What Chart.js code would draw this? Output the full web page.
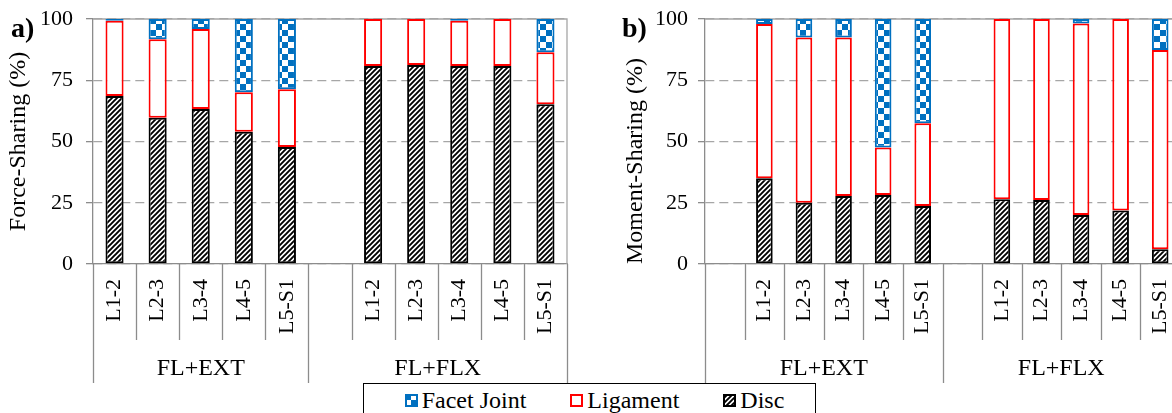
<!DOCTYPE html>
<html>
<head>
<meta charset="utf-8">
<script src="https://cdn.jsdelivr.net/npm/chart.js@4.4.1/dist/chart.umd.min.js"></script>
<style>
  html, body { margin: 0; padding: 0; background: #fff; overflow: hidden; }
  #page { position: relative; width: 1172px; height: 413px; overflow: hidden;
          font-family: "Liberation Serif", "Times New Roman", serif; color: #000; }
  #page canvas.chart { position: absolute; top: 0; }
  #chartA { left: 0; }
  #chartB { left: 590px; }
  .panel { position: absolute; font-family: "Liberation Serif", serif; font-weight: bold;
           font-size: 28px; line-height: 28px; }
  #legend { position: absolute; left: 363px; top: 383px; width: 453px; height: 40px;
            border: 1.5px solid #000; background: #fff; display: flex; justify-content: center;
            align-items: flex-start; gap: 44px; padding-top: 3px; padding-left: 10px; box-sizing: border-box; }
  #legend .item { display: flex; align-items: center; font-family: "Liberation Serif", serif;
                  font-size: 24px; line-height: 26px; }
  #legend canvas { margin-right: 4px; }
</style>
</head>
<body>
<div id="page">
  <canvas id="chartA" class="chart" width="580" height="413"></canvas>
  <canvas id="chartB" class="chart" width="600" height="413"></canvas>
  <div class="panel" style="left:11px;top:14px;">a)</div>
  <div class="panel" style="left:622px;top:14px;">b)</div>
  <div id="legend"></div>
</div>
<script>
// ---- data ----
const yTicks = [0, 25, 50, 75, 100];
const seriesNames = ['Disc', 'Ligament', 'Facet Joint'];

// a) force sharing
const categoriesA = ['L1-2', 'L2-3', 'L3-4', 'L4-5', 'L5-S1', '', 'L1-2', 'L2-3', 'L3-4', 'L4-5', 'L5-S1'];
const groupsA = ['FL+EXT', 'FL+FLX'];
const groupSizesA = [5, 6];
const discA     = [68.6, 59.7, 63.3, 54.0, 47.8, null, 80.8, 81.2, 80.8, 80.8, 65.2];
const ligamentA = [30.7, 32.0, 32.6, 16.1, 23.5, null, 19.2, 18.8, 18.5, 19.2, 21.2];
const facetA    = [0.7, 8.3, 4.1, 29.9, 28.7, null, 0, 0, 0.7, 0, 13.6];

// b) moment sharing
const categoriesB = ['', 'L1-2', 'L2-3', 'L3-4', 'L4-5', 'L5-S1', '', 'L1-2', 'L2-3', 'L3-4', 'L4-5', 'L5-S1'];
const groupsB = ['FL+EXT', 'FL+FLX'];
const groupSizesB = [6, 6];
const discB     = [null, 35.0, 25.0, 27.8, 28.2, 23.7, null, 26.4, 26.1, 20.0, 21.8, 6.0];
const ligamentB = [null, 63.0, 67.4, 64.6, 19.4, 33.7, null, 73.6, 73.9, 78.2, 78.2, 81.3];
const facetB    = [null, 2.0, 7.6, 7.6, 52.4, 42.6, null, 0, 0, 1.8, 0, 12.7];

// ---- styles ----
const FONT = "'Liberation Serif', 'Times New Roman', serif";
const AXIS_GRAY = '#8c8c8c';
const GRID_GRAY = '#a6a6a6';
const FACET_BLUE = '#0070C0';
const LIG_RED = '#ff0000';

function makeHatch() {
  const s = 5, c = document.createElement('canvas');
  c.width = c.height = s;
  const g = c.getContext('2d');
  g.fillStyle = '#fff'; g.fillRect(0, 0, s, s);
  g.strokeStyle = '#000'; g.lineWidth = 1.9;
  g.beginPath();
  for (let k = -1; k <= 1; k++) { g.moveTo(k * s - 1, s + 1); g.lineTo(k * s + s + 1, -1); }
  g.stroke();
  return g.createPattern(c, 'repeat');
}
function makeChecker() {
  const s = 12, h = 6, c = document.createElement('canvas');
  c.width = c.height = s;
  const g = c.getContext('2d');
  g.fillStyle = '#fff'; g.fillRect(0, 0, s, s);
  g.fillStyle = FACET_BLUE; g.fillRect(0, 0, h, h); g.fillRect(h, h, h, h);
  return g.createPattern(c, 'repeat');
}
const hatch = makeHatch();
const checker = makeChecker();

const seriesStyle = {
  'Disc':        { fill: hatch,   stroke: '#000' },
  'Ligament':    { fill: '#fff',  stroke: LIG_RED },
  'Facet Joint': { fill: checker, stroke: FACET_BLUE }
};

function buildDatasets(disc, lig, facet) {
  return [disc, lig, facet].map((vals, i) => ({
    label: seriesNames[i],
    data: vals,
    backgroundColor: seriesStyle[seriesNames[i]].fill,
    borderColor: seriesStyle[seriesNames[i]].stroke,
    borderWidth: 2,
    borderSkipped: false,
    categoryPercentage: 1.0,
    barPercentage: 0.42
  }));
}

// plot frame plus the two-level category separators and group names
const frameAndGroups = {
  id: 'frameAndGroups',
  beforeDatasetsDraw(chart) {
    const { ctx, chartArea: a } = chart;
    ctx.save();
    ctx.strokeStyle = GRID_GRAY; ctx.lineWidth = 1.3;
    ctx.beginPath();
    ctx.moveTo(a.left, a.top); ctx.lineTo(a.right, a.top); ctx.lineTo(a.right, a.bottom);
    ctx.stroke();
    ctx.restore();
  },
  afterDraw(chart, args, opts) {
    const { ctx, chartArea: a } = chart;
    const x = chart.scales.x;
    const n = chart.data.labels.length;
    const step = x.getPixelForValue(1) - x.getPixelForValue(0);
    const edge = i => x.getPixelForValue(0) - step / 2 + i * step;
    const bounds = [0];
    opts.sizes.forEach(sz => bounds.push(bounds[bounds.length - 1] + sz));
    ctx.save();
    ctx.strokeStyle = AXIS_GRAY; ctx.lineWidth = 1.3;
    for (let i = 0; i <= n; i++) {
      const long = bounds.includes(i);
      const px = Math.round(edge(i)) + 0.5;
      ctx.beginPath();
      ctx.moveTo(px, a.bottom);
      ctx.lineTo(px, a.bottom + (long ? 119 : 76));
      ctx.stroke();
    }
    ctx.fillStyle = '#000';
    ctx.font = '24px ' + FONT;
    ctx.textAlign = 'center'; ctx.textBaseline = 'middle';
    opts.names.forEach((name, g) => {
      const cx = (edge(bounds[g]) + edge(bounds[g + 1])) / 2;
      ctx.fillText(name, cx, a.bottom + 105);
    });
    ctx.restore();
  }
};

function makeChart(id, labels, disc, lig, facet, names, sizes, cfg) {
  return new Chart(document.getElementById(id), {
    type: 'bar',
    data: { labels: labels, datasets: buildDatasets(disc, lig, facet) },
    plugins: [frameAndGroups],
    options: {
      responsive: false,
      animation: false,
      devicePixelRatio: 1,
      layout: { padding: { top: 19, right: cfg.padRight, left: 0, bottom: 0 } },
      plugins: {
        legend: { display: false },
        tooltip: { enabled: false },
        frameAndGroups: { names: names, sizes: sizes }
      },
      scales: {
        x: {
          stacked: true,
          offset: true,
          grid: { display: false, drawTicks: false },
          border: { display: true, color: AXIS_GRAY, width: 1.3 },
          ticks: {
            autoSkip: false, minRotation: 90, maxRotation: 90,
            color: '#000', font: { family: FONT, size: 22 }, padding: 15
          },
          afterFit: s => { s.height = 413 - 264; s.paddingLeft = 0; s.paddingRight = 0; }
        },
        y: {
          stacked: true,
          min: 0, max: 100,
          afterBuildTicks: s => { s.ticks = yTicks.map(v => ({ value: v })); },
          grid: { color: GRID_GRAY, lineWidth: 1.3, tickLength: 7, tickColor: AXIS_GRAY, tickWidth: 1.3 },
          border: { display: true, color: AXIS_GRAY, width: 1.3, dash: [9, 5] },
          ticks: { color: '#000', font: { family: FONT, size: 22 }, padding: cfg.tickPad },
          title: {
            display: true, text: cfg.title, color: '#000', align: cfg.titleAlign,
            font: { family: FONT, size: 24 }, padding: { top: cfg.titlePad, bottom: 0 }
          },
          afterFit: s => { s.width = cfg.axisWidth; s.paddingTop = 0; s.paddingBottom = 0; }
        }
      }
    }
  });
}

makeChart('chartA', categoriesA, discA, ligamentA, facetA, groupsA, groupSizesA, {
  title: 'Force-Sharing (%)', titleAlign: 'center', titlePad: 4,
  axisWidth: 93, padRight: 13, tickPad: 13
});
makeChart('chartB', categoriesB, discB, ligamentB, facetB, groupsB, groupSizesB, {
  title: 'Moment-Sharing (%)', titleAlign: 'start', titlePad: 31,
  axisWidth: 115, padRight: 10, tickPad: 10
});

// legend: top of stack first
const legend = document.getElementById('legend');
seriesNames.slice().reverse().forEach(name => {
  const item = document.createElement('div');
  item.className = 'item';
  const sw = document.createElement('canvas');
  sw.width = 13; sw.height = 13;
  const g = sw.getContext('2d');
  g.fillStyle = seriesStyle[name].fill; g.fillRect(0, 0, 13, 13);
  g.strokeStyle = seriesStyle[name].stroke; g.lineWidth = 2; g.strokeRect(1, 1, 11, 11);
  const label = document.createElement('span');
  label.textContent = name;
  item.appendChild(sw); item.appendChild(label);
  legend.appendChild(item);
});
</script>
</body>
</html>
